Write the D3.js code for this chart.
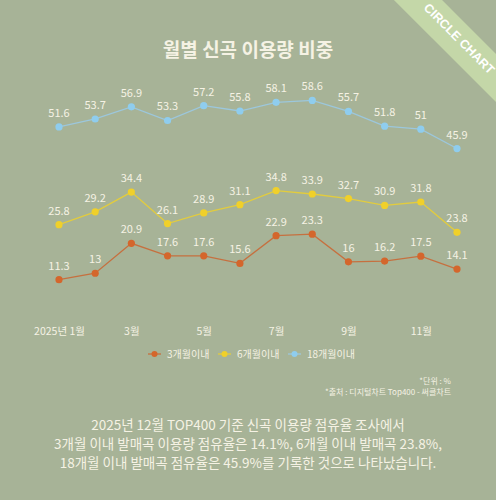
<!DOCTYPE html>
<html>
<head>
<meta charset="utf-8">
<script src="https://cdn.jsdelivr.net/npm/d3@7"></script>
<style>
  body { margin: 0; background: #a7b397; }
  svg { display: block; font-family: "Noto Sans CJK KR", "Noto Sans", sans-serif; }
</style>
</head>
<body>
<div id="chart"></div>
<script>
var months = [1, 2, 3, 4, 5, 6, 7, 8, 9, 10, 11, 12];
var tickMonths = [1, 3, 5, 7, 9, 11];
var tickLabels = ['2025년 1월', '3월', '5월', '7월', '9월', '11월'];

var seriesNames = ['3개월이내', '6개월이내', '18개월이내'];
var within3 = [11.3, 13, 20.9, 17.6, 17.6, 15.6, 22.9, 23.3, 16, 16.2, 17.5, 14.1];
var within6 = [25.8, 29.2, 34.4, 26.1, 28.9, 31.1, 34.8, 33.9, 32.7, 30.9, 31.8, 23.8];
var within18 = [51.6, 53.7, 56.9, 53.3, 57.2, 55.8, 58.1, 58.6, 55.7, 51.8, 51, 45.9];

var colors = ['#d4662c', '#f0d02a', '#8fcdee'];
var lineColors = ['#c6703f', '#e2cc3e', '#9cc7dc'];

var width = 496, height = 500;
var textColor = '#f5f2e4';

var svg = d3.select('#chart').append('svg')
  .attr('width', width)
  .attr('height', height);

svg.append('rect')
  .attr('width', width)
  .attr('height', height)
  .attr('fill', '#a7b397');

// corner ribbon
var ribbon = svg.append('g')
  .attr('transform', 'translate(458,40) rotate(45)');
ribbon.append('rect')
  .attr('x', -100).attr('y', -17)
  .attr('width', 200).attr('height', 34)
  .attr('fill', '#c4d7a8');
ribbon.append('text')
  .attr('x', 0).attr('y', -2)
  .attr('dy', '0.36em')
  .attr('text-anchor', 'middle')
  .style('font-family', '"Liberation Sans", Arial, sans-serif')
  .style('font-size', '12.5px')
  .style('font-weight', 'bold')
  .style('fill', '#ffffff')
  .text('CIRCLE CHART');

svg.append('text')
  .attr('x', 248)
  .attr('y', 50)
  .attr('dy', '0.36em')
  .attr('text-anchor', 'middle')
  .style('font-size', '19px')
  .style('font-weight', 'bold')
  .style('fill', textColor)
  .text('월별 신곡 이용량 비중');

var x = d3.scalePoint()
  .domain(months)
  .range([59, 457]);

var y = d3.scaleLinear()
  .domain([0, 60])
  .range([322.5, 95.1]);

var xAxis = d3.axisBottom(x)
  .tickValues(tickMonths)
  .tickSize(0)
  .tickPadding(5)
  .tickFormat(function (d) { return tickLabels[tickMonths.indexOf(d)]; });

var axisG = svg.append('g')
  .attr('transform', 'translate(0,' + y(0) + ')')
  .call(xAxis);
axisG.select('.domain').remove();
axisG.selectAll('text')
  .style('font-family', '"Noto Sans CJK KR", sans-serif')
  .style('font-size', '10.5px')
  .style('fill', textColor);

var allSeries = [within3, within6, within18];

var line = d3.line()
  .x(function (d, i) { return x(months[i]); })
  .y(function (d) { return y(d); });

allSeries.forEach(function (values, s) {
  var g = svg.append('g');

  g.append('path')
    .datum(values)
    .attr('d', line)
    .attr('fill', 'none')
    .attr('stroke', lineColors[s])
    .attr('stroke-width', 1.3);

  g.selectAll('circle')
    .data(values)
    .enter().append('circle')
    .attr('cx', function (d, i) { return x(months[i]); })
    .attr('cy', function (d) { return y(d); })
    .attr('r', 3.6)
    .attr('fill', colors[s]);

  g.selectAll('text')
    .data(values)
    .enter().append('text')
    .attr('x', function (d, i) { return x(months[i]); })
    .attr('y', function (d) { return y(d) - 10; })
    .attr('text-anchor', 'middle')
    .style('font-size', '11px')
    .style('fill', textColor)
    .text(function (d) { return d; });
});

// legend
var legendX = [148, 218, 288];
var legend = svg.append('g').attr('transform', 'translate(0,354)');
seriesNames.forEach(function (name, s) {
  var item = legend.append('g').attr('transform', 'translate(' + legendX[s] + ',0)');
  item.append('line')
    .attr('x1', 0).attr('x2', 13)
    .attr('stroke', lineColors[s])
    .attr('stroke-width', 1.3);
  item.append('circle')
    .attr('cx', 6.5).attr('r', 3)
    .attr('fill', colors[s]);
  item.append('text')
    .attr('x', 19)
    .attr('dy', '0.36em')
    .style('font-size', '10px')
    .style('fill', textColor)
    .text(name);
});

svg.append('text')
  .attr('x', 451).attr('y', 384)
  .attr('text-anchor', 'end')
  .style('font-size', '8px')
  .style('fill', textColor)
  .text('*단위 : %');

svg.append('text')
  .attr('x', 451).attr('y', 395)
  .attr('text-anchor', 'end')
  .style('font-size', '8px')
  .style('fill', textColor)
  .text('*출처 :  디지털차트 Top400 - 써클차트');

var bodyLines = [
  '2025년 12월 TOP400 기준 신곡 이용량 점유율 조사에서',
  '3개월 이내 발매곡 이용량 점유율은 14.1%, 6개월 이내 발매곡 23.8%,',
  '18개월 이내 발매곡 점유율은 45.9%를 기록한 것으로 나타났습니다.'
];
svg.selectAll('.body-line')
  .data(bodyLines)
  .enter().append('text')
  .attr('class', 'body-line')
  .attr('x', 248)
  .attr('y', function (d, i) { return 425 + i * 19; })
  .attr('dy', '0.36em')
  .attr('text-anchor', 'middle')
  .style('font-size', '13.5px')
  .style('fill', textColor)
  .text(function (d) { return d; });
</script>
</body>
</html>
